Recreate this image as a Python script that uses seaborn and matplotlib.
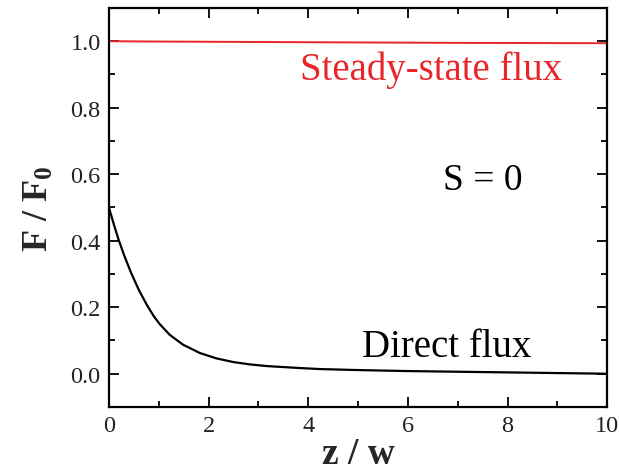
import numpy as np
import pandas as pd
import matplotlib
matplotlib.use("Agg")
import matplotlib.pyplot as plt
import seaborn as sns
from matplotlib.ticker import MultipleLocator

# Data
direct_z = [0.0, 0.1, 0.19, 0.3, 0.44, 0.6, 0.76, 0.9, 1.02, 1.22, 1.49, 1.83, 2.16, 2.5, 2.83, 3.17,
            3.84, 4.24, 5.0, 6.0, 7.0, 8.0, 9.0, 10.0]
direct_f = [0.50, 0.448, 0.405, 0.358, 0.305, 0.252, 0.207, 0.173, 0.149, 0.117, 0.087, 0.062, 0.046, 0.035, 0.028, 0.023,
            0.017, 0.014, 0.011, 0.008, 0.006, 0.004, 0.002, 0.0]
steady_z = [0.0, 1.0, 4.0, 7.0, 10.0]
steady_f = [1.0, 0.999, 0.997, 0.995, 0.994]

x_ticks = [0, 2, 4, 6, 8, 10]
y_ticks = [0.0, 0.2, 0.4, 0.6, 0.8, 1.0]

sns.set_theme(style="ticks")
plt.rcParams["font.family"] = ["Liberation Serif", "DejaVu Serif"]
plt.rcParams["mathtext.fontset"] = "custom"
plt.rcParams["mathtext.rm"] = "Liberation Serif:bold"
plt.rcParams["mathtext.it"] = "Liberation Serif:bold"
plt.rcParams["mathtext.bf"] = "Liberation Serif:bold"
plt.rcParams["mathtext.default"] = "rm"

fig = plt.figure(figsize=(6.19, 4.77), dpi=100)
ax = fig.add_axes([0.176, 0.1447, 0.805, 0.8365])

df_direct = pd.DataFrame({"z": direct_z, "F": direct_f})
df_steady = pd.DataFrame({"z": steady_z, "F": steady_f})
sns.lineplot(data=df_steady, x="z", y="F", ax=ax, color="#e8262a", linewidth=1.4)
sns.lineplot(data=df_direct, x="z", y="F", ax=ax, color="black", linewidth=1.6)

ax.set_xlim(0, 10)
ax.set_ylim(-0.1, 1.1)
ax.set_xticks(x_ticks)
ax.set_yticks(y_ticks)
ax.set_xticklabels([str(t) for t in x_ticks])
ax.set_yticklabels([f"{t:.1f}" for t in y_ticks])
ax.xaxis.set_minor_locator(MultipleLocator(1))
ax.yaxis.set_minor_locator(MultipleLocator(0.1))
ax.tick_params(which="both", direction="in", top=True, right=True, width=1.3, color="black")
ax.tick_params(which="major", length=7, labelsize=17.5, pad=6, labelcolor="#222222")
ax.tick_params(which="minor", length=4)
ax.tick_params(axis="x", labeltop=False)
ax.tick_params(axis="y", labelright=False)
for s in ax.spines.values():
    s.set_linewidth(1.6)
    s.set_color("black")

ax.set_xlabel("z / w", fontsize=27, fontweight="bold", labelpad=0)
ax.set_ylabel(r"F / F$_0$", fontsize=26, fontweight="bold", labelpad=10)

ax.text(3.84, 0.916, "Steady-state flux", color="#e8262a", fontsize=28, va="center", ha="left")
ax.text(6.7, 0.584, "S = 0", color="black", fontsize=27, va="center", ha="left")
ax.text(5.08, 0.081, "Direct flux", color="black", fontsize=28, va="center", ha="left")

fig.savefig("out.png", dpi=100)
